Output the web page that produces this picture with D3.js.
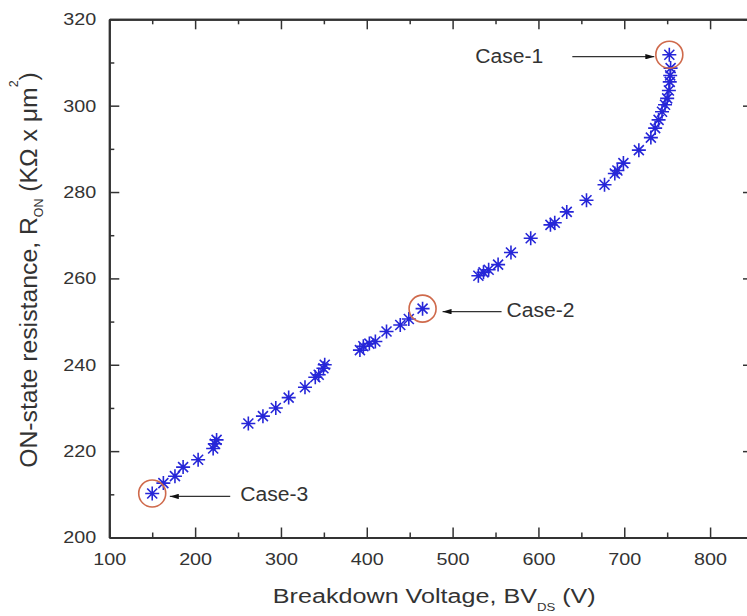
<!DOCTYPE html>
<html>
<head>
<meta charset="utf-8">
<script src="https://cdn.jsdelivr.net/npm/d3@7"></script>
<style>
    body { margin: 0; background: #fff; }
    svg { display: block; font-family: Arial, "Liberation Sans", sans-serif; }
    .axis path, .axis line { stroke: #333; }
    .axis text { fill: #333; font-size: 17px; }
</style>
</head>
<body>
<figure id="chart" style="margin:0"></figure>
<script>
// breakdown voltage (V) of each simulated device
var voltage = [150, 163, 176.5, 186, 203.5, 221, 223, 225, 262, 279, 294, 309, 328, 340, 344, 349.5, 351,
    392, 396, 403, 410, 423, 439, 449, 465,
    530, 536, 542, 553, 568, 591, 614, 619, 633, 656, 677, 689, 692, 699, 717, 731, 736, 740, 744,
    747.5, 750, 752, 753, 753.5, 754, 752.5];

// matching ON-state resistance (KOhm x um^2)
var resistance = [210.2, 212.6, 214.2, 216.3, 218, 220.6, 221.7, 222.6, 226.4, 228.1, 230, 232.4, 234.8, 237.1, 237.7, 239.2, 240,
    243.4, 244.3, 244.9, 245.4, 247.7, 249.2, 250.6, 253,
    260.6, 261.4, 262, 263.2, 266, 269.3, 272.4, 272.9, 275.4, 278.1, 281.7, 284.3, 285, 286.7, 289.7, 292.6, 294.8, 296.7, 298.6,
    300.2, 301.7, 303.5, 305.5, 307, 308.7, 311.8];

// highlighted cases
var caseNames = ["Case-1", "Case-2", "Case-3"];
var caseVoltage = [752.5, 465, 150];
var caseResistance = [311.8, 253, 210.2];

var xMajor = [100, 200, 300, 400, 500, 600, 700, 800];
var xMinor = [150, 250, 350, 450, 550, 650, 750, 850];
var yMajor = [200, 220, 240, 260, 280, 300, 320];
var yMinor = [210, 230, 250, 270, 290, 310];

let dimensions = {
    width: 747,
    height: 616,
    margin: {
        top: 19.3,
        right: -6, // right spine sits just past the edge
        bottom: 78.5,
        left: 109.3,
    },
};

dimensions.boundedWidth = dimensions.width - dimensions.margin.left - dimensions.margin.right;
dimensions.boundedHeight = dimensions.height - dimensions.margin.top - dimensions.margin.bottom;

var root = d3.select("figure#chart")
    .append("svg")
    .attr("width", dimensions.width)
    .attr("height", dimensions.height);

var svg = root.append("g")
    .attr("transform", `translate(${dimensions.margin.left}, ${dimensions.margin.top})`);

var xScale = d3.scaleLinear()
    .domain([100, 850])
    .range([0, dimensions.boundedWidth]);

var yScale = d3.scaleLinear()
    .domain([200, 320])
    .range([dimensions.boundedHeight, 0]);

// ticks point inward on every side, labels only bottom and left
function minorAxis(axis, values) {
    return axis.tickValues(values).tickSizeInner(-5).tickSizeOuter(0).tickFormat("");
}

svg.append("g")
    .attr("class", "axis")
    .attr("transform", `translate(0, ${dimensions.boundedHeight})`)
    .call(minorAxis(d3.axisBottom(xScale), xMinor));
svg.append("g")
    .attr("class", "axis")
    .call(minorAxis(d3.axisTop(xScale), xMinor));
svg.append("g")
    .attr("class", "axis")
    .call(minorAxis(d3.axisLeft(yScale), yMinor));
svg.append("g")
    .attr("class", "axis")
    .attr("transform", `translate(${dimensions.boundedWidth}, 0)`)
    .call(minorAxis(d3.axisRight(yScale), yMinor));

var xAxis = svg.append("g")
    .attr("class", "axis")
    .attr("transform", `translate(0, ${dimensions.boundedHeight})`)
    .call(d3.axisBottom(xScale).tickValues(xMajor).tickSizeInner(-10).tickSizeOuter(0).tickPadding(15));

var yAxis = svg.append("g")
    .attr("class", "axis")
    .call(d3.axisLeft(yScale).tickValues(yMajor).tickSizeInner(-10).tickSizeOuter(0).tickPadding(13));

svg.append("g")
    .attr("class", "axis")
    .call(d3.axisTop(xScale).tickValues(xMajor).tickSizeInner(-10).tickSizeOuter(0).tickFormat(""));

svg.append("g")
    .attr("class", "axis")
    .attr("transform", `translate(${dimensions.boundedWidth}, 0)`)
    .call(d3.axisRight(yScale).tickValues(yMajor).tickSizeInner(-10).tickSizeOuter(0).tickFormat(""));

svg.selectAll(".axis path").attr("stroke-width", 2);
svg.selectAll(".axis line").attr("stroke-width", 1.5);

// tick numbers are drawn a little wide
svg.selectAll(".axis text")
    .attr("textLength", 33)
    .attr("lengthAdjust", "spacingAndGlyphs");

// eight-armed star marker
var arm = 7, diag = 5;
var starPath = `M${-arm},0L${arm},0M0,${-arm}L0,${arm}M${-diag},${-diag}L${diag},${diag}M${-diag},${diag}L${diag},${-diag}`;

svg.append("g")
    .selectAll("path")
    .data(d3.range(voltage.length))
    .enter()
    .append("path")
    .attr("transform", i => `translate(${xScale(voltage[i])}, ${yScale(resistance[i])})`)
    .attr("d", starPath)
    .attr("fill", "none")
    .attr("stroke", "#2626d8")
    .attr("stroke-width", 1.6);

// circles + arrows + labels for the three cases
var defs = root.append("defs");
defs.append("marker")
    .attr("id", "head")
    .attr("viewBox", "0 0 10 6")
    .attr("refX", 10)
    .attr("refY", 3)
    .attr("markerWidth", 9)
    .attr("markerHeight", 5.5)
    .attr("markerUnits", "userSpaceOnUse")
    .attr("orient", "auto")
    .append("path")
    .attr("d", "M0,0L10,3L0,6Z")
    .attr("fill", "#111");

// label side, arrow start/end offsets from the marker and text offset
var callout = [
    { tail: -97, tip: -15, text: -194, dy: 2 },
    { tail: 79, tip: 20, text: 84, dy: 3 },
    { tail: 78, tip: 17.6, text: 88, dy: 3 },
];

var cases = svg.append("g")
    .selectAll("g")
    .data(caseNames)
    .enter()
    .append("g")
    .attr("transform", (d, i) => `translate(${xScale(caseVoltage[i])}, ${yScale(caseResistance[i])})`);

cases.append("circle")
    .attr("r", 13.5)
    .attr("fill", "none")
    .attr("stroke", "#cf6a4c")
    .attr("stroke-width", 1.6);

cases.append("line")
    .attr("x1", (d, i) => callout[i].tail)
    .attr("x2", (d, i) => callout[i].tip)
    .attr("y1", (d, i) => callout[i].dy)
    .attr("y2", (d, i) => callout[i].dy)
    .attr("stroke", "#333")
    .attr("stroke-width", 1.2)
    .attr("marker-end", "url(#head)");

cases.append("text")
    .attr("x", (d, i) => callout[i].text)
    .attr("y", 8)
    .attr("font-size", 20)
    .attr("textLength", 68)
    .attr("lengthAdjust", "spacingAndGlyphs")
    .attr("fill", "#333")
    .text(d => d);

// axis titles
var xTitle = root.append("text")
    .attr("font-size", 21)
    .attr("fill", "#333")
    .attr("text-anchor", "middle");
xTitle.append("tspan").text("Breakdown Voltage, BV");
xTitle.append("tspan").attr("font-size", 11).attr("dy", 8).text("DS");
xTitle.append("tspan").attr("dy", -8).text(" (V)");
var xLen = xTitle.node().getComputedTextLength();
xTitle.attr("transform", `translate(434.3, 603) scale(${323 / xLen}, 1)`);

var yTitle = root.append("text")
    .attr("font-size", 24)
    .attr("fill", "#333")
    .attr("text-anchor", "middle");
yTitle.append("tspan").text("ON-state resistance, R");
yTitle.append("tspan").attr("font-size", 12).attr("dy", 6.5).text("ON");
yTitle.append("tspan").attr("dy", -6.5).text(" (K\u03A9 x \u03BCm");
yTitle.append("tspan").attr("font-size", 12).attr("dy", -19).text("2");
yTitle.append("tspan").attr("dy", 19).text(")");
var yLen = yTitle.node().getComputedTextLength();
yTitle.attr("transform", `translate(36.7, 270) rotate(-90) scale(${396 / yLen}, 1)`);
</script>
</body>
</html>
